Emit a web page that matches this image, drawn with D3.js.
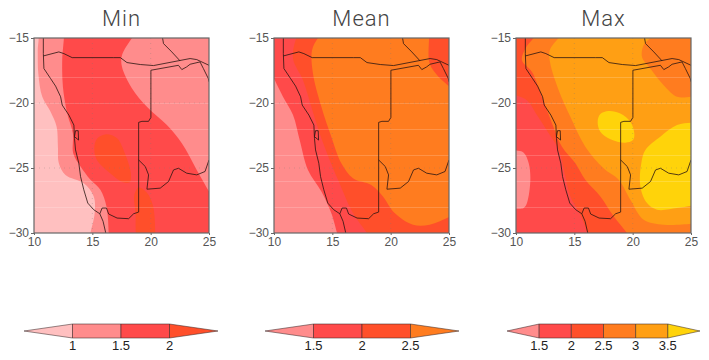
<!DOCTYPE html>
<html>
<head>
<meta charset="utf-8">
<script src="https://cdn.jsdelivr.net/npm/d3@7"></script>
<style>
body { margin: 0; background: #fff; }
svg { display: block; }
text { font-family: "Liberation Sans", sans-serif; }
</style>
</head>
<body>
<div id="chart"></div>
<script>
const titles = ["Min", "Mean", "Max"];
const lonTicks = [10, 15, 20, 25];
const latTicks = [-15, -20, -25, -30];
const gridLons = [15, 20];
const gridLats = [-20, -25];
const stripeLats = [-18, -20, -22, -24, -26, -28];

const colorLevels = {
    pale: "#ffc0c0",
    pink: "#ff8c8c",
    red: "#ff4a4a",
    redOrange: "#ff4f2a",
    orange: "#ff7c1f",
    amber: "#ff9f14",
    yellow: "#ffd30a"
};

// Contour regions, [lon, lat]. Corners sit outside the frame and get clipped.
const minRed = [[12.56,-14.5],[12.56,-15],[12.42,-16.71],[12.48,-18.76],[12.85,-20.8],[13.33,-22.33],[13.36,-23.87],[13.99,-24.89],[14.84,-25.91],[15.69,-26.68],[16.21,-27.96],[16.4,-30],[16.4,-30.6],[25.6,-30.6],[25.6,-27.7],[25,-26.81],[23.95,-25.15],[22.67,-23.1],[21.39,-21.7],[19.68,-20.29],[18.4,-18.88],[17.54,-17.22],[17.54,-16.33],[18.4,-15],[18.8,-14.5]];
const minPale = [[9.4,-14.5],[10.3,-14.6],[10.32,-16],[10.37,-17.73],[10.71,-19.52],[11.42,-20.67],[11.94,-21.82],[12.05,-23.36],[12.13,-24.63],[12.7,-25.53],[14.27,-26.17],[15.12,-27.19],[15.2,-28.47],[14.84,-30],[14.7,-30.6],[9.4,-30.6]];
const minPatchA = [[16.2,-22.4],[17.1,-22.7],[17.8,-23.9],[18.3,-25.4],[18.2,-26.1],[17.65,-26.1],[16.4,-25.3],[15.4,-24.4],[15.17,-23.5],[15.4,-22.75]];
const minPatchB = [[18.97,-26.5],[19.68,-26.9],[20.2,-27.9],[20.4,-30],[20.4,-30.6],[18.97,-30.6],[18.7,-28.4],[18.6,-27.1]];

const meanPink = [[9.4,-17],[10,-18.12],[10.77,-19.52],[11.63,-20.93],[12.2,-22.85],[12.91,-25.15],[14.06,-26.81],[14.91,-28.47],[15.4,-30],[15.6,-30.6],[9.4,-30.6]];
const meanRedOrange = [[12.2,-14.5],[11.91,-15],[11.63,-16.58],[12.49,-18.25],[13.2,-20.29],[13.91,-22.33],[14.77,-24.38],[15.49,-25.91],[16.77,-28.47],[17.97,-30],[18.4,-30.6],[25.6,-30.6],[25.6,-14.5]];
const meanOrange = [[14.3,-14.5],[13.77,-15],[13.26,-15.95],[13.34,-17.73],[14.06,-20.29],[14.91,-22.59],[15.77,-24.63],[16.77,-25.78],[18.34,-26.3],[19.34,-27.19],[20.34,-28.47],[21.91,-29.36],[23.34,-29.36],[25,-28.77],[25.6,-28.5],[25.6,-19.2],[25,-18.71],[24.06,-17.94],[23.34,-16.97],[23.29,-15],[23.3,-14.5]];

const maxRed = [[9.4,-19.2],[10,-19.4],[10.94,-19.78],[11.8,-20.93],[12.8,-22.33],[13.66,-23.61],[14.23,-25.66],[14.66,-27.19],[15.51,-28.6],[16.14,-30],[16.4,-30.6],[9.4,-30.6]];
const maxPink = [[9.4,-23.6],[10,-23.66],[10.66,-23.82],[11.09,-24.63],[11.23,-25.91],[10.94,-27.7],[10.66,-28.08],[10,-28.14],[9.4,-28.16]];
const maxOrange = [[12,-14.5],[11.51,-15],[10.8,-15.82],[10.51,-16.71],[11.37,-17.61],[12.23,-19.52],[13.09,-21.57],[13.94,-23.36],[15.09,-24.63],[15.94,-25.91],[17.23,-27.19],[18.37,-28.72],[19.51,-30],[20,-30.6],[25.6,-30.6],[25.6,-14.5]];
const maxAmber = [[14.2,-14.5],[13.66,-15],[12.89,-15.95],[12.94,-16.97],[13.66,-19.01],[14.66,-21.06],[15.94,-23.36],[17.51,-25.02],[18.8,-25.91],[19.8,-27.45],[20.94,-28.98],[22.66,-29.36],[25,-29.29],[25.6,-29.2],[25.6,-19.5],[25,-19.52],[23.8,-19.52],[22.66,-18.63],[21.51,-17.35],[20.8,-16.46],[20.94,-15.56],[21.51,-15],[22,-14.5]];
const maxYellowA = [[17.94,-20.62],[18.94,-20.8],[19.8,-21.44],[20.14,-22.33],[20.03,-22.85],[19.37,-23.05],[18.09,-22.79],[17.23,-22.21],[17,-21.44],[17.23,-20.85]];
const maxYellowB = [[25.6,-21.5],[25,-21.52],[23.8,-21.7],[22.37,-22.59],[21.09,-23.61],[20.74,-24.63],[20.66,-26.42],[21.23,-27.7],[22.09,-28.21],[23.8,-28.08],[25,-27.9],[25.6,-27.8]];

// Country outlines
const coast = [[10.8,-15],[10.8,-16.2],[10.85,-17.35],[11.42,-18.12],[11.85,-18.7],[12.28,-19.52],[12.42,-20.16],[12.99,-20.93],[13.42,-21.7],[13.47,-22.72],[13.56,-23.61],[13.84,-24.63],[13.99,-25.66],[14.27,-26.68],[14.61,-27.7],[15.12,-28.21],[15.64,-28.52],[15.92,-29.1],[16.15,-30]];
const angolaBorder = [[10.8,-16.38],[12.13,-16.07],[12.56,-16.2],[13.27,-16.51],[16.83,-16.51],[17.4,-16.51],[17.97,-16.89],[19.11,-17.04],[20.25,-17.12],[23.38,-16.58],[23.95,-16.66],[25,-17.1]];
const walvisBay = [[13.56,-22.13],[13.79,-22.13],[13.82,-22.85],[13.47,-22.59],[13.56,-22.13]];
const namibiaBorder = [[15.64,-28.52],[15.84,-28.08],[16.21,-28.08],[16.4,-28.54],[17.12,-28.85],[18.11,-28.9],[18.54,-28.52],[18.97,-28.39],[18.97,-21.49],[19.25,-21.41],[19.82,-21.41],[20.02,-21.11],[20.02,-17.48],[22.38,-17.1],[22.67,-17.43],[23.09,-17.22],[23.38,-17.02],[24.23,-16.84],[24.52,-17.35],[24.94,-18.12],[25,-18.37]];
const zambiaBorder = [[21.02,-15],[21.1,-15.43],[21.81,-16.07],[22.52,-16.76]];
const botswanaBorder = [[18.97,-24.38],[19.54,-24.89],[19.82,-25.53],[19.68,-26.63],[20.82,-26.55],[21.53,-26.04],[21.96,-25.15],[22.38,-25.02],[23.09,-25.4],[23.95,-25.53],[24.66,-25.27],[25,-24.38]];
const outlines = [coast, angolaBorder, walvisBay, namibiaBorder, zambiaBorder, botswanaBorder];

const panels = [
    { title: titles[0], left: 34, right: 209, base: "pink",
      regions: [["pale", minPale], ["red", minRed], ["redOrange", minPatchA], ["redOrange", minPatchB]] },
    { title: titles[1], left: 274, right: 449, base: "red",
      regions: [["pink", meanPink], ["redOrange", meanRedOrange], ["orange", meanOrange]] },
    { title: titles[2], left: 516, right: 691, base: "redOrange",
      regions: [["red", maxRed], ["pink", maxPink], ["orange", maxOrange], ["amber", maxAmber], ["yellow", maxYellowA], ["yellow", maxYellowB]] }
];

const bars = [
    { left: 24, right: 218, levels: [1, 1.5, 2], labels: ["1", "1.5", "2"], colors: ["pale", "pink", "red", "redOrange"] },
    { left: 265, right: 459, levels: [1.5, 2, 2.5], labels: ["1.5", "2", "2.5"], colors: ["pink", "red", "redOrange", "orange"] },
    { left: 507, right: 700, levels: [1.5, 2, 2.5, 3, 3.5], labels: ["1.5", "2", "2.5", "3", "3.5"], colors: ["pink", "red", "redOrange", "orange", "amber", "yellow"] }
];

const WIDTH = 709, HEIGHT = 360;
const PLOT_TOP = 38, PLOT_BOTTOM = 233;
const BAR_TOP = 324, BAR_BOTTOM = 338;

const svg = d3.select("#chart").append("svg")
    .attr("width", WIDTH)
    .attr("height", HEIGHT);

const yScale = d3.scaleLinear().domain([-30, -15]).range([PLOT_BOTTOM, PLOT_TOP]);
const minus = v => String(v).replace("-", "\u2212");

panels.forEach((panel, i) => {
    const xScale = d3.scaleLinear().domain([10, 25]).range([panel.left, panel.right]);
    const plotWidth = panel.right - panel.left;
    const g = svg.append("g");

    g.append("clipPath").attr("id", `clip-${i}`)
        .append("rect")
        .attr("x", panel.left).attr("y", PLOT_TOP)
        .attr("width", plotWidth).attr("height", PLOT_BOTTOM - PLOT_TOP);

    const plot = g.append("g").attr("clip-path", `url(#clip-${i})`);

    plot.append("rect")
        .attr("x", panel.left).attr("y", PLOT_TOP)
        .attr("width", plotWidth).attr("height", PLOT_BOTTOM - PLOT_TOP)
        .attr("fill", colorLevels[panel.base]);

    const area = d3.line()
        .x(d => xScale(d[0]))
        .y(d => yScale(d[1]))
        .curve(d3.curveCatmullRomClosed.alpha(0.5));

    plot.selectAll("path.region")
        .data(panel.regions)
        .join("path")
        .attr("class", "region")
        .attr("d", d => area(d[1]))
        .attr("fill", d => colorLevels[d[0]]);

    // Pale horizontal streaks every two degrees, they run across the whole map.
    plot.selectAll("line.stripe")
        .data(stripeLats)
        .join("line")
        .attr("class", "stripe")
        .attr("x1", panel.left).attr("x2", panel.right)
        .attr("y1", d => Math.round(yScale(d)) + 0.5)
        .attr("y2", d => Math.round(yScale(d)) + 0.5)
        .attr("stroke", "#fff")
        .attr("stroke-opacity", 0.18);

    // Very faint dotted grid
    plot.selectAll("line.gridx")
        .data(gridLons)
        .join("line")
        .attr("class", "gridx")
        .attr("x1", d => xScale(d)).attr("x2", d => xScale(d))
        .attr("y1", PLOT_TOP).attr("y2", PLOT_BOTTOM)
        .attr("stroke", "#777")
        .attr("stroke-opacity", 0.3)
        .attr("stroke-dasharray", "1 4");
    plot.selectAll("line.gridy")
        .data(gridLats)
        .join("line")
        .attr("class", "gridy")
        .attr("x1", panel.left).attr("x2", panel.right)
        .attr("y1", d => yScale(d)).attr("y2", d => yScale(d))
        .attr("stroke", "#777")
        .attr("stroke-opacity", 0.3)
        .attr("stroke-dasharray", "1 4");

    const border = d3.line()
        .x(d => xScale(d[0]))
        .y(d => yScale(d[1]));

    plot.selectAll("path.outline")
        .data(outlines)
        .join("path")
        .attr("class", "outline")
        .attr("d", border)
        .attr("fill", "none")
        .attr("stroke", "#2a1512")
        .attr("stroke-width", 0.8);

    g.append("rect")
        .attr("x", panel.left).attr("y", PLOT_TOP)
        .attr("width", plotWidth).attr("height", PLOT_BOTTOM - PLOT_TOP)
        .attr("fill", "none")
        .attr("stroke", "#666")
        .attr("stroke-width", 1.2);

    const xAxis = g.append("g")
        .attr("transform", `translate(0, ${PLOT_BOTTOM})`)
        .call(d3.axisBottom(xScale).tickValues(lonTicks).tickSize(2).tickPadding(2));
    const yAxis = g.append("g")
        .attr("transform", `translate(${panel.left}, 0)`)
        .call(d3.axisLeft(yScale).tickValues(latTicks).tickSize(3).tickPadding(2).tickFormat(minus));
    [xAxis, yAxis].forEach(axis => {
        axis.select(".domain").remove();
        axis.selectAll("line").attr("stroke", "#666");
        axis.selectAll("text")
            .style("font-size", "12px")
            .style("fill", "#555");
    });

    g.append("text")
        .attr("x", (panel.left + panel.right) / 2)
        .attr("y", 26)
        .attr("text-anchor", "middle")
        .style("font-family", "Roboto, sans-serif")
        .style("font-weight", "300")
        .style("font-size", "22px")
        .style("letter-spacing", "1px")
        .style("fill", "#444")
        .text(panel.title);
});

// Colour bars with pointed ends
bars.forEach(bar => {
    const n = bar.levels.length;
    const step = bar.levels[1] - bar.levels[0];
    const x = d3.scaleLinear()
        .domain([bar.levels[0] - step, bar.levels[n - 1] + step])
        .range([bar.left, bar.right]);
    const mid = (BAR_TOP + BAR_BOTTOM) / 2;
    const g = svg.append("g");
    const cells = bar.colors.map((c, i) => {
        const lo = i === 0 ? bar.levels[0] - step : bar.levels[i - 1];
        const hi = i === n ? bar.levels[n - 1] + step : bar.levels[i];
        let pts;
        if (i === 0) pts = [[x(lo), mid], [x(hi), BAR_TOP], [x(hi), BAR_BOTTOM]];
        else if (i === n) pts = [[x(lo), BAR_TOP], [x(hi), mid], [x(lo), BAR_BOTTOM]];
        else pts = [[x(lo), BAR_TOP], [x(hi), BAR_TOP], [x(hi), BAR_BOTTOM], [x(lo), BAR_BOTTOM]];
        return { color: c, pts };
    });
    g.selectAll("polygon")
        .data(cells)
        .join("polygon")
        .attr("points", d => d.pts.join(" "))
        .attr("fill", d => colorLevels[d.color])
        .attr("stroke", "#3a2a2a")
        .attr("stroke-opacity", 0.55)
        .attr("stroke-width", 1);
    g.selectAll("text")
        .data(bar.levels)
        .join("text")
        .attr("x", d => x(d))
        .attr("y", 350)
        .attr("text-anchor", "middle")
        .style("font-size", "13px")
        .style("fill", "#222")
        .text((d, i) => bar.labels[i]);
});
</script>
</body>
</html>
